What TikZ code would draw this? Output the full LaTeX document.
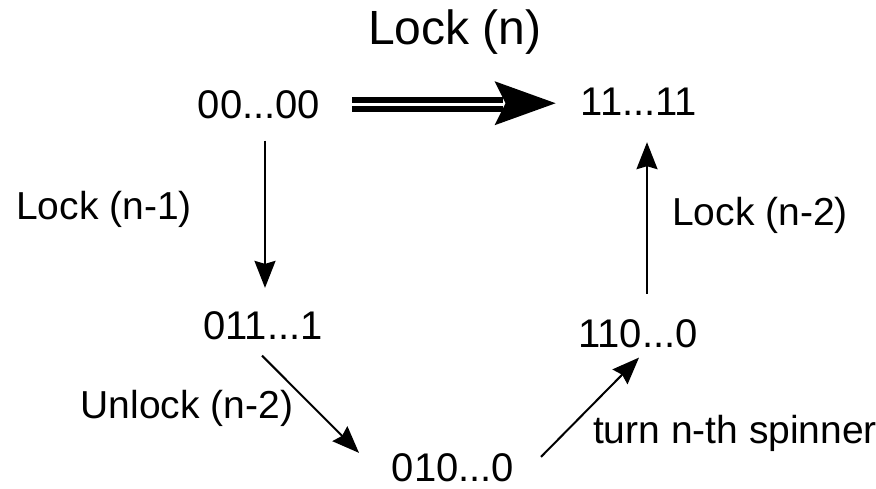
\documentclass[tikz,border=0pt]{standalone}
\usepackage{fontspec}
\setmainfont{Liberation Sans}
\usetikzlibrary{arrows.meta,calc}

\tikzset{
  state/.style={inner sep=0pt, font=\fontsize{40}{40}\selectfont},
  lbl/.style={inner sep=0pt, font=\fontsize{39}{39}\selectfont},
  title/.style={inner sep=0pt, font=\fontsize{48}{48}\selectfont},
  arr/.style={line width=2pt, -{Stealth[length=27pt, width=21pt, inset=3pt]}},
  dbl/.style={line width=6pt, double=white, double distance=3pt},
}

\begin{document}
\begin{tikzpicture}[x=1pt, y=-1pt]
  \fill[white] (0,0) rectangle (876,488);
  \useasboundingbox (0,0) rectangle (876,488);

  % states
  \node[state, anchor=base] (zero) at (259,118) {00...00};
  \node[state, anchor=base] (ones) at (639,115) {11...11};
  \node[state, anchor=base] (a)    at (263,339) {011...1};
  \node[state, anchor=base] (b)    at (453,481) {010...0};
  \node[state, anchor=base] (c)    at (638,347) {110...0};

  % labels
  \node[title, anchor=base] (tl) at (455,44) {Lock (n)};
  \node[lbl, anchor=base] (l1) at (104,219) {Lock (n-1)};
  \node[lbl, anchor=base] (l2) at (760,225) {Lock (n-2)};
  \node[lbl, anchor=base] (l3) at (187,418) {Unlock (n-2)};
  \node[lbl, anchor=base] (l4) at (735,443) {turn n-th spinner};

  % double arrow: 00...00 => 11...11
  \draw[dbl] ($(zero.east)+(32,0)$) -- ($(ones.west |- zero.east)+(-78,0)$);
  \fill ($(ones.west |- zero.east)+(-25,-1)$) -- ++(-61,-22) -- ++(11,22) -- ++(-11,22) -- cycle;

  % single arrows
  \draw[arr] ($(zero.south)+(6,22)$) -- ($(a.north)+(2,-23)$);
  \draw[arr] ($(a.south)+(-1,16)$) -- ($(b.north)+(-94,0)$);
  \draw[arr] ($(b.north)+(88,4)$) -- ($(c.south)+(1,10)$);
  \draw[arr] ($(c.north)+(9,-25)$) -- ($(ones.south)+(8,27)$);
\end{tikzpicture}
\end{document}
